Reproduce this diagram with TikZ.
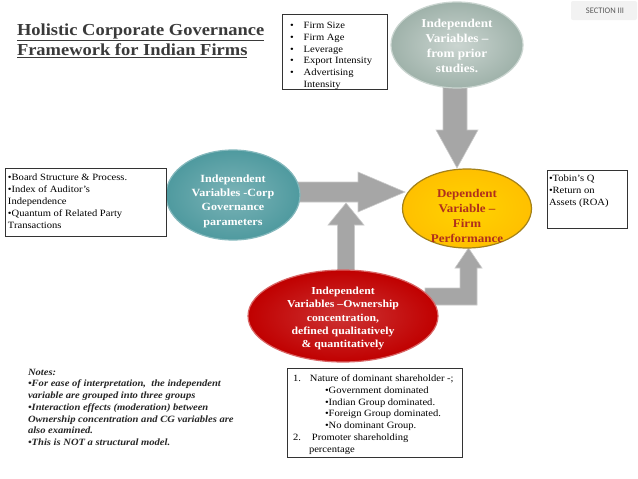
\documentclass[tikz,border=0pt]{standalone}
\usepackage{fontspec}
\setmainfont{Liberation Serif}[FakeStretch=1.1]
\newfontfamily\labelfont{Carlito}
\usetikzlibrary{shapes.geometric}
\definecolor{arrowgrey}{HTML}{A6A6A6}
\definecolor{sagegreen}{HTML}{9FB2AA}
\definecolor{tealc}{HTML}{4F9A9F}
\definecolor{goldc}{HTML}{FFC000}
\definecolor{redc}{HTML}{C00000}
\definecolor{perfred}{HTML}{B0301C}
\definecolor{titlegrey}{HTML}{3A3A3A}
\tikzset{
  blockarrow/.style={fill=arrowgrey, draw=arrowgrey!60!white, line width=0.6pt},
  infobox/.style={draw=black!80, line width=0.8pt, fill=white, rectangle},
  oval/.style={ellipse, line width=1.2pt},
  ovaltext/.style={align=center, font=\bfseries\fontsize{11}{14.3}\selectfont},
  boxtext/.style={align=left, font=\fontsize{9.6}{11.7}\selectfont, anchor=north west},
}
\begin{document}
\begin{tikzpicture}[x=1pt,y=-1pt, every node/.style={inner sep=0pt, outer sep=0pt}]
\useasboundingbox (0,0) rectangle (638,479);
\fill[white] (0,0) rectangle (638,479);

% section label
\node[fill=black!5, rounded corners=2pt, minimum width=66pt, minimum height=19pt, anchor=north west] (sect) at (571,1) {};
\node[font=\labelfont\fontsize{8.5}{9}\selectfont, text=black!65] (secttext) at ([xshift=1pt]sect) {SECTION III};

% title
\node[anchor=north west, align=left, text=titlegrey, font=\bfseries\fontsize{16.8}{19.5}\selectfont] (title) at (17,24)
  {\underline{Holistic Corporate Governance}\\ \underline{Framework for Indian Firms}};

% named tips of the block arrows
\coordinate (dtip) at (457,168);
\coordinate (rtip) at (405,192);
\coordinate (utip) at (346,203);
\coordinate (etip) at (468.5,248);

% block arrows (drawn behind the ovals)
\draw[blockarrow] (443,82) -- (467,82) -- (467,130) -- (478,130) -- (dtip) -- (436,130) -- (443,130) -- cycle;
\draw[blockarrow] (292,182) -- (358,182) -- (358,172) -- (rtip) -- (358,212) -- (358,202) -- (292,202) -- cycle;
\draw[blockarrow] (337.5,282) -- (337.5,225) -- (328,225) -- (utip) -- (364,225) -- (354.5,225) -- (354.5,282) -- cycle;
\draw[blockarrow] (425,288) -- (460,288) -- (460,268) -- (455,268) -- (etip) -- (482,268) -- (477,268) -- (477,305) -- (425,305) -- cycle;

% ovals
\node[oval, minimum width=132pt, minimum height=86pt, draw=sagegreen!55!white, inner color=sagegreen!55!white, outer color=sagegreen] (prior) at (457,45) {};
\node[ovaltext, text=white, font=\bfseries\fontsize{12}{15}\selectfont] at ([yshift=-1pt]prior) {Independent\\Variables –\\from prior\\studies.};

\node[oval, minimum width=134pt, minimum height=90pt, draw=tealc!70!white, inner color=tealc!75!white, outer color=tealc] (corp) at (233,195) {};
\node[ovaltext, text=white] at ([yshift=-6pt]corp) {Independent\\Variables -Corp\\Governance\\parameters};

\node[oval, minimum width=129pt, minimum height=79pt, draw=goldc!60!black!90, inner color=goldc!70!yellow, outer color=goldc] (perf) at (467,208.5) {};
\node[ovaltext, text=perfred, font=\bfseries\fontsize{11.8}{15.3}\selectfont] at ([yshift=-7.5pt]perf) {Dependent\\Variable –\\Firm\\Performance};

\node[oval, minimum width=190pt, minimum height=92pt, draw=redc!60!white, inner color=redc!80!white, outer color=redc] (own) at (343,316) {};
\node[ovaltext, text=white, font=\bfseries\fontsize{10.7}{13.4}\selectfont] at ([yshift=-2.5pt]own) {Independent\\Variables –Ownership\\concentration,\\defined qualitatively\\\& quantitatively};

% info boxes
\node[infobox, minimum width=105pt, minimum height=75pt, anchor=north west] (firmbox) at (282,14) {};
\node[boxtext] at ([xshift=8pt,yshift=-6.5pt]firmbox.north west)
  {\begin{tabular}{@{}l@{\hspace{10pt}}l@{}}
   • & Firm Size\\ • & Firm Age\\ • & Leverage\\ • & Export Intensity\\ • & Advertising\\ & Intensity
   \end{tabular}};

\node[infobox, minimum width=161pt, minimum height=68pt, anchor=north west] (cgbox) at (5,168) {};
\node[boxtext, font=\fontsize{9.6}{12}\selectfont] at ([xshift=3pt,yshift=-6pt]cgbox.north west)
  {•Board Structure \& Process.\\•Index of Auditor’s\\Independence\\•Quantum of Related Party\\Transactions};

\node[infobox, minimum width=80pt, minimum height=58pt, anchor=north west] (perfbox) at (547,170) {};
\node[boxtext] at ([xshift=2pt,yshift=-5pt]perfbox.north west)
  {•Tobin’s Q\\•Return on\\Assets (ROA)};

\node[infobox, minimum width=175pt, minimum height=89pt, anchor=north west] (ownbox) at (287,368) {};
\node[boxtext, font=\fontsize{9.6}{11.9}\selectfont] at ([xshift=6pt,yshift=-6.5pt]ownbox.north west)
  {1.\hspace{9pt}Nature of dominant shareholder -;\\
   \hspace{32pt}•Government dominated\\
   \hspace{32pt}•Indian Group dominated.\\
   \hspace{32pt}•Foreign Group dominated.\\
   \hspace{32pt}•No dominant Group.\\
   2.\hspace{11pt}Promoter shareholding\\
   \hspace{16pt}percentage};

% notes
\node[boxtext, font=\bfseries\itshape\fontsize{9.6}{11.7}\selectfont, text=black!85] (notes) at (28,369)
  {Notes:\\•For ease of interpretation,\ \ the independent\\variable are grouped into three groups\\•Interaction effects (moderation) between\\Ownership concentration and CG variables are\\also examined.\\•This is NOT a structural model.};
\end{tikzpicture}
\end{document}
